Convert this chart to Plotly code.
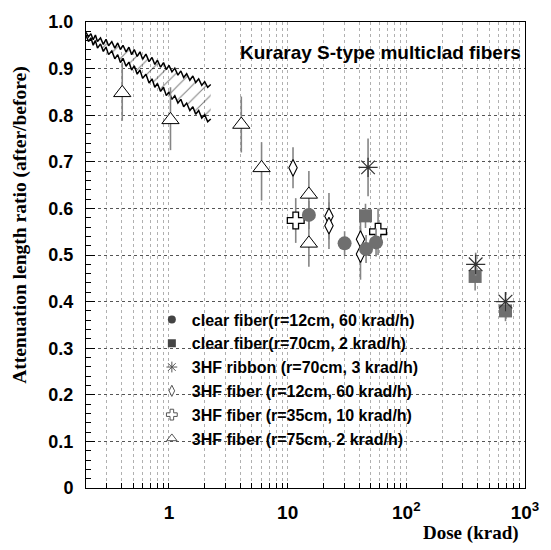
import plotly.graph_objects as go

# ---------------- data ----------------
band_dose = [0.20, 0.21, 0.22, 0.23, 0.24, 0.25, 0.265, 0.28, 0.295, 0.31, 0.33, 0.35, 0.37, 0.39,
             0.41, 0.435, 0.46, 0.485, 0.51, 0.54, 0.57, 0.60, 0.64, 0.68, 0.72, 0.76, 0.80, 0.85,
             0.90, 0.95, 1.00, 1.06, 1.12, 1.19, 1.26, 1.33, 1.41, 1.50, 1.59, 1.68, 1.78, 1.89,
             2.00, 2.12, 2.25]
band_upper = [0.978, 0.968, 0.975, 0.962, 0.972, 0.958, 0.966, 0.952, 0.963, 0.949, 0.958, 0.944,
              0.955, 0.941, 0.950, 0.936, 0.946, 0.930, 0.941, 0.926, 0.936, 0.920, 0.931, 0.915,
              0.924, 0.909, 0.918, 0.903, 0.913, 0.898, 0.907, 0.893, 0.901, 0.886, 0.895, 0.881,
              0.889, 0.875, 0.884, 0.870, 0.878, 0.864, 0.872, 0.860, 0.866]
band_lower = [0.972, 0.958, 0.966, 0.950, 0.960, 0.944, 0.953, 0.937, 0.946, 0.930, 0.938, 0.921,
              0.930, 0.913, 0.922, 0.905, 0.914, 0.897, 0.906, 0.888, 0.897, 0.879, 0.888, 0.869,
              0.878, 0.860, 0.868, 0.851, 0.860, 0.842, 0.850, 0.834, 0.842, 0.826, 0.834, 0.818,
              0.826, 0.810, 0.818, 0.802, 0.810, 0.794, 0.801, 0.786, 0.792]

clear12_x = [15.1, 30.2, 45.8, 55.6]
clear12_y = [0.586, 0.525, 0.513, 0.527]
clear12_err = [0.03, 0.026, 0.03, 0.03]

clear70_x = [45.3, 380, 685]
clear70_y = [0.584, 0.454, 0.380]
clear70_err = [0.026, 0.03, 0.022]

ribbon_x = [47.6, 384, 685]
ribbon_y = [0.688, 0.480, 0.400]
ribbon_err = [0.062, 0.025, 0.02]

hf12_x = [11.1, 22.3, 22.3, 41.1, 41.1]
hf12_y = [0.687, 0.583, 0.563, 0.534, 0.502]
hf12_err = [0.044, 0.05, 0.05, 0.05, 0.055]

hf35_x = [11.7, 57.8]
hf35_y = [0.574, 0.550]
hf35_err = [0.048, 0.05]

hf75_x = [0.404, 1.03, 4.07, 6.03, 15.1, 15.1]
hf75_y = [0.848, 0.790, 0.780, 0.687, 0.630, 0.525]
hf75_up = [0.065, 0.07, 0.06, 0.055, 0.05, 0.05]
hf75_dn = [0.06, 0.065, 0.06, 0.07, 0.05, 0.05]

legend_names = ["clear fiber(r=12cm, 60 krad/h)", "clear fiber(r=70cm, 2 krad/h)",
                "3HF ribbon (r=70cm, 3 krad/h)", "3HF fiber (r=12cm, 60 krad/h)",
                "3HF fiber (r=35cm, 10 krad/h)", "3HF fiber (r=75cm, 2 krad/h)"]

x_tickvals = [0.2, 0.3, 0.4, 0.5, 0.6, 0.7, 0.8, 0.9,
              1, 2, 3, 4, 5, 6, 7, 8, 9,
              10, 20, 30, 40, 50, 60, 70, 80, 90,
              100, 200, 300, 400, 500, 600, 700, 800, 900, 1000]
x_labels = {1: "1", 10: "10", 100: "10<sup>2</sup>", 1000: "10<sup>3</sup>"}
y_tickvals = [0, 0.1, 0.2, 0.3, 0.4, 0.5, 0.6, 0.7, 0.8, 0.9, 1.0]
y_ticktext = ["0", "0.1", "0.2", "0.3", "0.4", "0.5", "0.6", "0.7", "0.8", "0.9", "1.0"]

# ---------------- figure ----------------
GRAY = "#6f6f6f"
ERR = "#858585"
fig = go.Figure()

fig.add_trace(go.Scatter(x=band_dose, y=band_upper, mode="lines",
                         line=dict(color="black", width=1.5), showlegend=False, hoverinfo="skip"))
fig.add_trace(go.Scatter(x=band_dose, y=band_lower, mode="lines", fill="tonexty",
                         fillcolor="rgba(0,0,0,0)",
                         fillpattern=dict(shape="/", fgcolor="black", bgcolor="rgba(0,0,0,0)",
                                          size=10, solidity=0.1),
                         line=dict(color="black", width=1.5), showlegend=False, hoverinfo="skip"))

def err(arr, arrm=None):
    d = dict(type="data", array=arr, color=ERR, thickness=1.6, width=0, visible=True)
    d["arrayminus"] = arrm if arrm is not None else arr
    return d

fig.add_trace(go.Scatter(x=hf75_x, y=hf75_y, mode="markers", error_y=err(hf75_up, hf75_dn),
                         marker=dict(symbol="triangle-up", size=15, color="white",
                                     line=dict(color="black", width=1)), showlegend=False))
fig.add_trace(go.Scatter(x=hf35_x, y=hf35_y, mode="markers", error_y=err(hf35_err),
                         marker=dict(symbol="cross", size=14, color="white",
                                     line=dict(color="black", width=1.3)), showlegend=False))
fig.add_trace(go.Scatter(x=hf12_x, y=hf12_y, mode="markers", error_y=err(hf12_err),
                         marker=dict(symbol="diamond-tall", size=12, color="white",
                                     line=dict(color="black", width=1.1)), showlegend=False))
fig.add_trace(go.Scatter(x=clear12_x, y=clear12_y, mode="markers", error_y=err(clear12_err),
                         marker=dict(symbol="circle", size=14, color=GRAY, line=dict(width=0)),
                         showlegend=False))
fig.add_trace(go.Scatter(x=clear70_x, y=clear70_y, mode="markers", error_y=err(clear70_err),
                         marker=dict(symbol="square", size=13, color=GRAY, line=dict(width=0)),
                         showlegend=False))
fig.add_trace(go.Scatter(x=ribbon_x, y=ribbon_y, mode="markers", error_y=err(ribbon_err),
                         marker=dict(symbol="asterisk-open", size=16, color="#333333",
                                     line=dict(color="#333333", width=1.2)), showlegend=False))

# legend-only traces (small symbols as in the reference)
leg_markers = [
    dict(symbol="circle", size=8, color="#444444"),
    dict(symbol="square", size=8, color="#444444"),
    dict(symbol="asterisk-open", size=9, color="#555555", line=dict(color="#555555", width=1)),
    dict(symbol="diamond-tall", size=8, color="white", line=dict(color="#555555", width=1)),
    dict(symbol="cross", size=9, color="white", line=dict(color="#555555", width=1)),
    dict(symbol="triangle-up", size=9, color="white", line=dict(color="#555555", width=1)),
]
for name, mk in zip(legend_names, leg_markers):
    fig.add_trace(go.Scatter(x=[None], y=[None], mode="markers", name=name, marker=mk,
                             showlegend=True))

fig.update_layout(
    width=551, height=550,
    margin=dict(l=86, r=24, t=14, b=62),
    paper_bgcolor="white", plot_bgcolor="white",
    showlegend=True,
    legend=dict(x=0.15, y=0.398, xanchor="left", yanchor="top", traceorder="normal",
                bgcolor="rgba(0,0,0,0)", borderwidth=0,
                font=dict(family="Liberation Sans", size=16, color="black", weight="bold"),
                itemwidth=30, tracegroupgap=0),
    xaxis=dict(type="log", range=[-0.69897, 3],
               tickmode="array", tickvals=x_tickvals,
               ticktext=[x_labels.get(v, "") for v in x_tickvals],
               ticks="inside", ticklen=5, tickcolor="black",
               showgrid=True, gridcolor="#b0b0b0", griddash="dot", gridwidth=1,
               showline=True, linecolor="black", linewidth=1, mirror=True,
               zeroline=False, ticklabelstandoff=7,
               tickfont=dict(family="Liberation Sans", size=19, color="black", weight="bold")),
    yaxis=dict(range=[0, 1.0], tickmode="array", tickvals=y_tickvals, ticktext=y_ticktext,
               ticks="inside", ticklen=9, tickcolor="black",
               minor=dict(dtick=0.02, ticks="inside", ticklen=5, tickcolor="black", showgrid=False),
               showgrid=True, gridcolor="#555555", griddash="dot", gridwidth=1,
               showline=True, linecolor="black", linewidth=1, mirror=True,
               zeroline=False, ticklabelstandoff=8,
               tickfont=dict(family="Liberation Sans", size=18, color="black", weight="bold")),
    annotations=[
        dict(text="<b>Kuraray S-type multiclad fibers</b>", xref="paper", yref="paper",
             x=0.995, y=0.935, xanchor="right", yanchor="middle", showarrow=False,
             font=dict(family="Liberation Sans", size=19, color="black")),
        dict(text="<b>Attenuation length ratio (after/before)</b>", xref="paper", yref="paper",
             x=-0.15, y=0.565, xanchor="center", yanchor="middle", textangle=-90,
             showarrow=False, font=dict(family="Liberation Serif", size=19.5, color="black")),
        dict(text="<b>Dose (krad)</b>", xref="paper", yref="paper",
             x=0.991, y=-0.097, xanchor="right", yanchor="middle", showarrow=False,
             font=dict(family="Liberation Serif", size=19, color="black")),
    ],
)

fig.write_html("out.html")
